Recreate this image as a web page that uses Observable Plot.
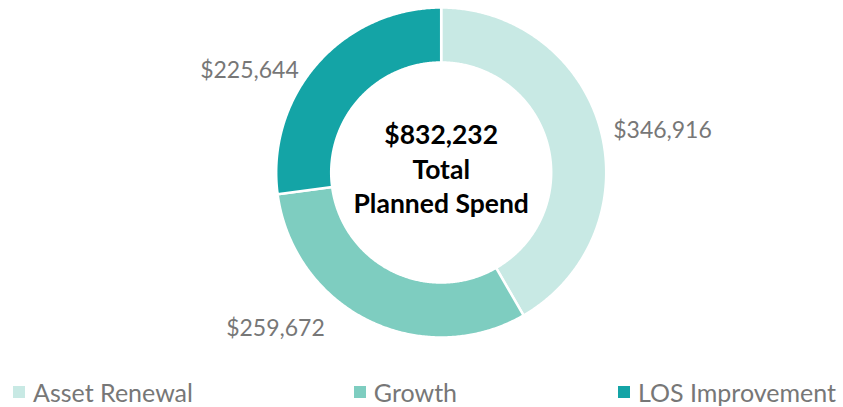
<!DOCTYPE html>
<html><head><meta charset="utf-8">
<script src="https://cdn.jsdelivr.net/npm/d3@7"></script>
<script src="https://cdn.jsdelivr.net/npm/@observablehq/plot@0.6"></script>
<style>
html,body{margin:0;padding:0;background:#fff;font-family:Lato,"Open Sans",sans-serif;}
#chart svg{display:block;}
.lg-swatches{display:flex !important;justify-content:space-between !important;align-items:center !important;
  flex-wrap:nowrap !important;height:36px;min-height:0 !important;margin:0 !important;padding:0 7px 0 13px;
  font-family:Lato,sans-serif !important;font-size:25px !important;color:#777 !important;}
.lg-swatch{margin-right:0 !important;}
.lg-swatch > svg{margin-right:8px !important;}
</style></head>
<body><div id="chart"></div>
<script>
// ---- data ----
const categories = ["Asset Renewal", "Growth", "LOS Improvement"];
const values = [346916, 259672, 225644];
const colors = ["#c8e9e4", "#7ecdc0", "#14a4a6"];
const centerCaption = ["Total", "Planned Spend"];

// ---- layout (pixels) ----
const W = 843, H = 374;
const cx = 440.7, cy = 172, R = 165, Rin = 110;
const labelStyle = {
  "Asset Renewal":   {dx: 12.6,  dy: 1,   anchor: "start"},
  "Growth":          {dx: -43.5, dy: 8.3, anchor: "end"},
  "LOS Improvement": {dx: -18.3, dy: 6.7, anchor: "end"}
};

const total = d3.sum(values);
const fmt = d3.format("$,");
const arcs = d3.pie().sort(null).value(d => d)(values);

// slice polygons in unit coordinates (outer radius = 1)
const inner = Rin / R;
const ring = [];
arcs.forEach((a, i) => {
  const n = Math.max(2, Math.ceil((a.endAngle - a.startAngle) / (Math.PI / 360)));
  for (let k = 0; k <= n; k++) {
    const t = a.startAngle + (a.endAngle - a.startAngle) * k / n;
    ring.push({cat: categories[i], x: Math.sin(t), y: Math.cos(t)});
  }
  for (let k = n; k >= 0; k--) {
    const t = a.startAngle + (a.endAngle - a.startAngle) * k / n;
    ring.push({cat: categories[i], x: inner * Math.sin(t), y: inner * Math.cos(t)});
  }
});

const labels = arcs.map((a, i) => {
  const mid = (a.startAngle + a.endAngle) / 2;
  const s = labelStyle[categories[i]];
  return {cat: categories[i], text: fmt(values[i]), anchor: s.anchor,
          x: Math.sin(mid) + s.dx / R, y: Math.cos(mid) - s.dy / R};
});

const labelMarks = ["start", "end"].map(anchor =>
  Plot.text(labels.filter(d => d.anchor === anchor), {
    x: "x", y: "y", text: "text", textAnchor: anchor,
    fill: "#777", fontSize: 23, fontFamily: "Lato"
  }));

const chart = Plot.plot({
  width: W, height: H,
  marginLeft: cx - R, marginRight: W - (cx + R),
  marginTop: cy - R, marginBottom: H - (cy + R),
  x: {domain: [-1, 1], axis: null},
  y: {domain: [-1, 1], axis: null},
  color: {domain: categories, range: colors},
  style: {fontFamily: "Lato", background: "white"},
  marks: [
    Plot.line(ring, {x: "x", y: "y", z: "cat", fill: "cat", stroke: "white", strokeWidth: 2.5, curve: "linear-closed"}),
    ...labelMarks,
    Plot.text([0], {x: () => 0, y: () => 0, text: () => [fmt(total), ...centerCaption].join("\n"),
      fontSize: 26.5, fontWeight: "bold", fill: "#000", lineHeight: 1.3, dy: -5, fontFamily: "Lato"})
  ]
});

const legend = chart.legend("color", {legend: "swatches", swatchSize: 12, className: "lg"});
const host = document.getElementById("chart");
host.appendChild(chart);
host.appendChild(legend);
</script>
</body></html>
